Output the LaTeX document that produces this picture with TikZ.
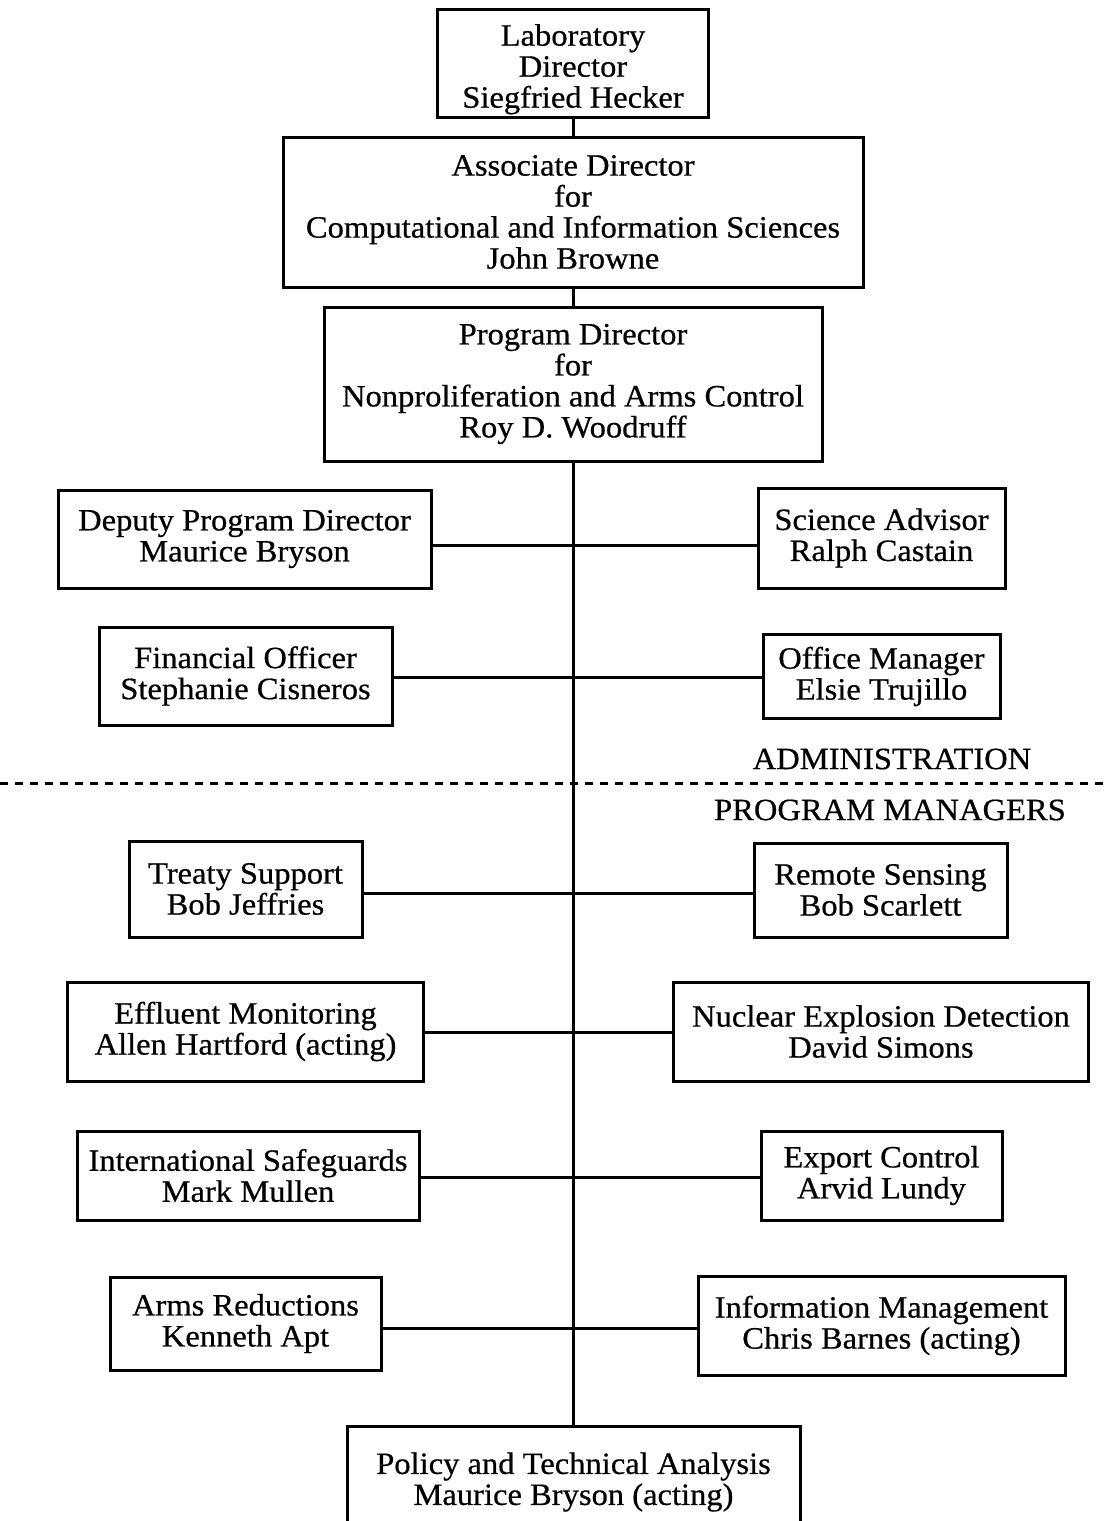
\documentclass[tikz,border=0pt]{standalone}
\usepackage{fontspec}
\setmainfont{Liberation Serif}[FakeStretch=1.05,FakeBold=0.6]
\begin{document}
\begin{tikzpicture}[x=1pt,y=-1pt,
  every node/.style={font=\fontsize{31}{31}\selectfont},
  box/.style={draw, line width=3pt, inner sep=0pt, align=center},
  ln/.style={line width=3pt},
  sep/.style={line width=3pt, dash pattern=on 8pt off 7pt}]
\useasboundingbox (0,0) rectangle (1105,1521);
% top chain
\node[box, minimum width=271pt, minimum height=108pt] (lab) at (573,63) {\rule{0pt}{34pt}Laboratory\\Director\\Siegfried Hecker};
\node[box, minimum width=580pt, minimum height=150pt] (assoc) at (573,212) {Associate Director\\for\\Computational and Information Sciences\\John Browne};
\node[box, minimum width=498pt, minimum height=154pt] (prog) at (573,384) {Program Director\\for\\Nonproliferation and Arms Control\\Roy D. Woodruff};
% administration
\node[box, minimum width=373pt, minimum height=98pt] (dep) at (244.5,539) {Deputy Program Director\\Maurice Bryson};
\node[box, minimum width=247pt, minimum height=100pt] (sci) at (881.5,538) {Science Advisor\\Ralph Castain};
\node[box, minimum width=293pt, minimum height=98pt] (fin) at (245.5,676) {Financial Officer\\Stephanie Cisneros};
\node[box, minimum width=237pt, minimum height=84pt] (off) at (881.5,676.5) {Office Manager\\Elsie Trujillo};
\node (adm) at (892,759) {ADMINISTRATION};
\node (pm) at (890,810) {PROGRAM MANAGERS};
% program managers
\node[box, minimum width=233pt, minimum height=96pt] (tre) at (245.5,889) {Treaty Support\\Bob Jeffries};
\node[box, minimum width=253pt, minimum height=94pt] (rem) at (880.5,890) {Remote Sensing\\Bob Scarlett};
\node[box, minimum width=356pt, minimum height=99pt] (eff) at (245.5,1031.5) {Effluent Monitoring\\Allen Hartford (acting)};
\node[box, minimum width=415pt, minimum height=99pt] (nuc) at (881,1031.5) {Nuclear Explosion Detection\\David Simons};
\node[box, minimum width=342pt, minimum height=89pt] (int) at (248,1175.5) {International Safeguards\\Mark Mullen};
\node[box, minimum width=241pt, minimum height=89pt] (exp) at (881.5,1175.5) {Export Control\\Arvid Lundy};
\node[box, minimum width=271pt, minimum height=93pt] (arm) at (245.5,1323.5) {Arms Reductions\\Kenneth Apt};
\node[box, minimum width=367pt, minimum height=99pt] (inf) at (881.5,1325.5) {Information Management\\Chris Barnes (acting)};
\node[box, minimum width=453pt, minimum height=230pt, anchor=north] (pol) at (573.5,1425) {};
\node[align=center, inner sep=0pt] (poltxt) at (573.5,1482) {Policy and Technical Analysis\\Maurice Bryson (acting)};
% spine
\draw[ln] (lab.south) -- (assoc.north);
\draw[ln] (assoc.south) -- (prog.north);
\draw[ln] (prog.south) -- (prog.south |- pol.north);
% junctions
\coordinate (j1) at (573,545);
\coordinate (j2) at (573,677);
\coordinate (j3) at (573,893);
\coordinate (j4) at (573,1032);
\coordinate (j5) at (573,1177);
\coordinate (j6) at (573,1328);
\draw[ln] (dep.east |- j1) -- (sci.west |- j1);
\draw[ln] (fin.east |- j2) -- (off.west |- j2);
\draw[ln] (tre.east |- j3) -- (rem.west |- j3);
\draw[ln] (eff.east |- j4) -- (nuc.west |- j4);
\draw[ln] (int.east |- j5) -- (exp.west |- j5);
\draw[ln] (arm.east |- j6) -- (inf.west |- j6);
% separator
\coordinate (dl) at (0,783);
\coordinate (dr) at (1105,783);
\draw[sep] (dl) -- (dr);
\end{tikzpicture}
\end{document}
